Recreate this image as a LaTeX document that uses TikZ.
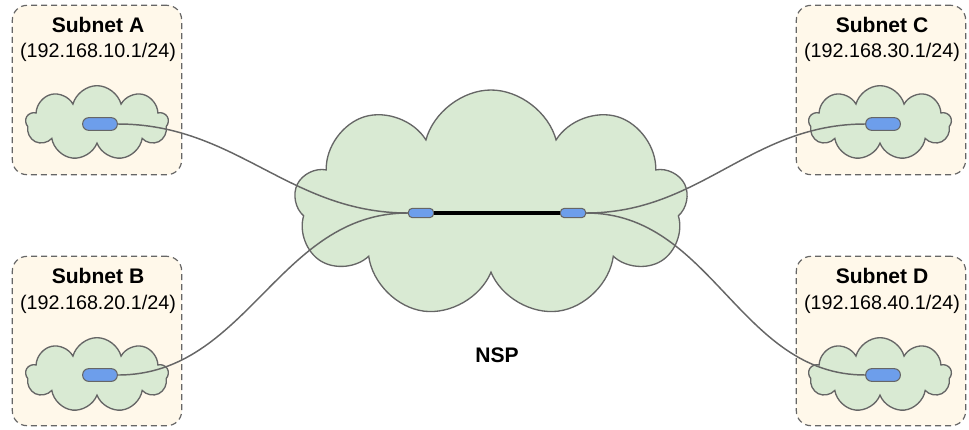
\documentclass[tikz,border=0pt]{standalone}
\usepackage{fontspec}
\setmainfont{Liberation Sans}
\usetikzlibrary{shapes.symbols, positioning}

\definecolor{linegray}{HTML}{666666}
\definecolor{subnetfill}{HTML}{FFF8EA}
\definecolor{cloudgreen}{HTML}{D9EAD3}
\definecolor{portblue}{HTML}{6D9EEB}

\begin{document}
\begin{tikzpicture}[x=0.75pt, y=-0.75pt,
    subnet/.style={draw=linegray, fill=subnetfill, line width=0.9pt, dash pattern=on 4.5pt off 3pt, rounded corners=11pt, minimum width=127pt, minimum height=127pt},
    title/.style={font=\fontsize{15.8}{18}\selectfont\bfseries, inner sep=0pt},
    addr/.style={font=\fontsize{14.8}{17}\selectfont, inner sep=0pt},
    net/.style={cloud, cloud puffs=9, aspect=1.9, draw=linegray, fill=cloudgreen, line width=1pt, inner sep=0pt},
    port/.style={draw=linegray, fill=portblue, line width=0.8pt, rounded corners=4.5pt, inner sep=0pt, minimum width=26pt, minimum height=9.5pt},
    coreport/.style={port, rounded corners=3pt, minimum width=19pt, minimum height=7pt},
    link/.style={draw=linegray, line width=1.1pt}]
\useasboundingbox (0,0) rectangle (969,429);

% subnets
\node[subnet] (boxA) at (97,90) {};
\node[title] (nameA) at (98,25) {Subnet A};
\node[addr] (addrA) at (98,52) {(192.168.10.1/24)};
\node[net, minimum width=107pt, minimum height=56pt] (netA) at (97,123) {};
\node[port] (portA) at (100,124) {};

\node[subnet] (boxB) at (97,341) {};
\node[title] (nameB) at (98,276) {Subnet B};
\node[addr] (addrB) at (98,304) {(192.168.20.1/24)};
\node[net, minimum width=107pt, minimum height=56pt] (netB) at (97,375) {};
\node[port] (portB) at (100,375) {};

\node[subnet] (boxC) at (881,90) {};
\node[title] (nameC) at (882,25) {Subnet C};
\node[addr] (addrC) at (882,52) {(192.168.30.1/24)};
\node[net, minimum width=107pt, minimum height=56pt] (netC) at (880,123) {};
\node[port] (portC) at (883,124) {};

\node[subnet] (boxD) at (881,341) {};
\node[title] (nameD) at (882,276) {Subnet D};
\node[addr] (addrD) at (882,304) {(192.168.40.1/24)};
\node[net, minimum width=107pt, minimum height=56pt] (netD) at (880,375) {};
\node[port] (portD) at (883,375) {};

% provider network
\node[net, minimum width=295pt, minimum height=171pt] (nsp) at (491,204) {};
\node[coreport] (coreL) at (421,213) {};
\node[coreport] (coreR) at (573,213) {};
\node[title] (nspName) at (497,355) {NSP};

% links
\draw[line width=2.6pt] (coreL.east) -- (coreR.west);
\draw[link] (portA.east) to[out=0, in=180] (coreL.west);
\draw[link] (portB.east) to[out=0, in=180] (coreL.west);
\draw[link] (coreR.east) to[out=0, in=180] (portC.west);
\draw[link] (coreR.east) to[out=0, in=180] (portD.west);
\end{tikzpicture}
\end{document}
